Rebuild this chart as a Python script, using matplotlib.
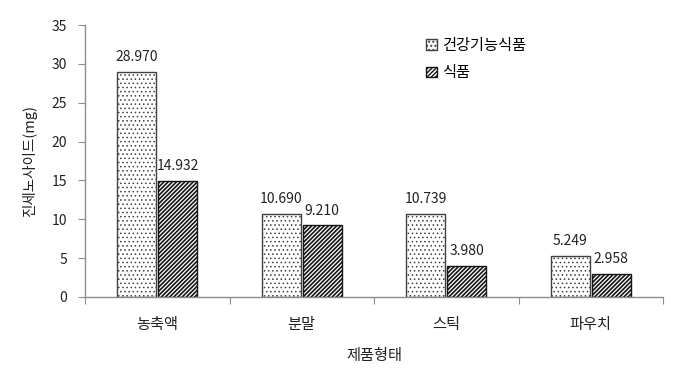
import matplotlib
matplotlib.use("Agg")
import matplotlib.pyplot as plt
import numpy as np

plt.rcParams['font.family'] = ['Noto Sans CJK KR', 'DejaVu Sans']

categories = ['농축액', '분말', '스틱', '파우치']
series_names = ['건강기능식품', '식품']
health_food = [28.970, 10.690, 10.739, 5.249]
food = [14.932, 9.210, 3.980, 2.958]
yticks = [0, 5, 10, 15, 20, 25, 30, 35]

W, H = 690, 377
fig = plt.figure(figsize=(W/100, H/100), dpi=100)
ax = fig.add_axes([85/W, 1-297/H, (663-85)/W, (297-25)/H])

x = np.arange(len(categories))
bw = 0.272
gap = 0.006
axis_col = '#8c8c8c'

with plt.rc_context({'hatch.linewidth': 0.6}):
    b1 = ax.bar(x - bw/2 - gap, health_food, bw, facecolor='white', edgecolor='#404040',
                hatch='....', linewidth=1.0, label=series_names[0])
with plt.rc_context({'hatch.linewidth': 1.2}):
    b2 = ax.bar(x + bw/2 + gap, food, bw, facecolor='white', edgecolor='#151515',
                hatch='////////', linewidth=1.0, label=series_names[1])

for bars, vals in ((b1, health_food), (b2, food)):
    for r, v in zip(bars, vals):
        ax.text(r.get_x() + r.get_width()/2, v + 1.0, f'{v:.3f}', ha='center', va='bottom',
                fontsize=10, color='#222222')

ax.set_xlim(-0.5, 3.5)
ax.set_ylim(0, 35)
ax.set_yticks(yticks)
ax.set_yticklabels([str(t) for t in yticks], fontsize=10, color='#222222')
ax.set_xticks(np.arange(-0.5, 4.0, 1.0), minor=False)
ax.set_xticklabels([])
ax.set_xticks(x, minor=True)
ax.set_xticklabels(categories, minor=True, fontsize=11, color='#222222')
ax.tick_params(axis='x', which='major', length=5, color=axis_col, direction='out')
ax.tick_params(axis='x', which='minor', length=0, pad=14)
ax.tick_params(axis='y', length=5, color=axis_col, direction='out', pad=8)

for s in ['top', 'right']:
    ax.spines[s].set_visible(False)
for s in ['left', 'bottom']:
    ax.spines[s].set_color(axis_col)
    ax.spines[s].set_linewidth(1.0)

ax.set_ylabel('진세노사이드(mg)', fontsize=10.5, color='#222222', labelpad=10)
ax.set_xlabel('제품형태', fontsize=11, color='#222222', labelpad=10)

leg = ax.legend(loc='upper left', bbox_to_anchor=(0.58, 0.98), frameon=False, fontsize=11,
                handlelength=0.7, handleheight=0.7, handletextpad=0.3, labelspacing=0.7,
                borderaxespad=0)

fig.savefig('out.png', dpi=100)
